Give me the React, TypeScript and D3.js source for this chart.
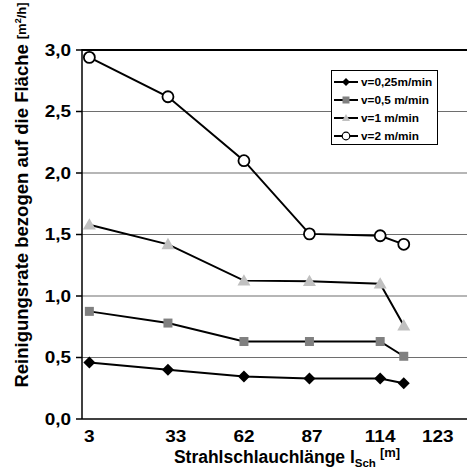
import React from "react";
import * as d3 from "d3";

const xValues = [3, 33, 62, 87, 114, 123];
const series025 = [0.46, 0.40, 0.345, 0.33, 0.33, 0.29];
const series05 = [0.875, 0.78, 0.63, 0.63, 0.63, 0.51];
const series1 = [1.58, 1.42, 1.125, 1.12, 1.10, 0.76];
const series2 = [2.94, 2.62, 2.10, 1.505, 1.49, 1.42];
const seriesNames = ["v=0,25m/min", "v=0,5 m/min", "v=1 m/min", "v=2 m/min"];
const xTickLabels = ["3", "33", "62", "87", "114", "123"];
const xTickAnchors = [3, 36, 62, 88, 114, 136];
const yTicks = [0, 0.5, 1, 1.5, 2, 2.5, 3];

const W = 467;
const H = 469;
const left = 82;
const top = 50;
const bottom = 419;

const x = d3.scaleLinear().domain([0, 148]).range([81.5, 81.5 + 148 * 2.62]);
const y = d3.scaleLinear().domain([0, 3]).range([bottom, top]);

const FONT = "'Liberation Sans', Arial, sans-serif";

type Kind = "diamond" | "square" | "triangle" | "circle";
const kinds: Kind[] = ["diamond", "square", "triangle", "circle"];
const allSeries = [series025, series05, series1, series2];

function Marker({ kind, cx, cy }: { kind: Kind; cx: number; cy: number }) {
  if (kind === "diamond") {
    const s = 6;
    return (
      <path
        d={`M${cx},${cy - s}L${cx + s},${cy}L${cx},${cy + s}L${cx - s},${cy}Z`}
        fill="#000"
      />
    );
  }
  if (kind === "square") {
    const s = 4.5;
    return <rect x={cx - s} y={cy - s} width={2 * s} height={2 * s} fill="#808080" />;
  }
  if (kind === "triangle") {
    const s = 6.5;
    return (
      <path
        d={`M${cx},${cy - s}L${cx + s},${cy + s * 0.75}L${cx - s},${cy + s * 0.75}Z`}
        fill="#c0c0c0"
      />
    );
  }
  return <circle cx={cx} cy={cy} r={5.5} fill="#fff" stroke="#000" strokeWidth={1.8} />;
}

function LegendMarker({ kind, cx, cy }: { kind: Kind; cx: number; cy: number }) {
  if (kind === "diamond") {
    const s = 4;
    return <path d={`M${cx},${cy - s}L${cx + s},${cy}L${cx},${cy + s}L${cx - s},${cy}Z`} fill="#000" />;
  }
  if (kind === "square") {
    const s = 3.5;
    return <rect x={cx - s} y={cy - s} width={2 * s} height={2 * s} fill="#808080" />;
  }
  if (kind === "triangle") {
    const s = 4;
    return <path d={`M${cx},${cy - s}L${cx + s},${cy + s * 0.75}L${cx - s},${cy + s * 0.75}Z`} fill="#c0c0c0" />;
  }
  return <circle cx={cx} cy={cy} r={3.8} fill="#fff" stroke="#000" strokeWidth={1.2} />;
}

export default function App() {
  const line = d3
    .line<[number, number]>()
    .x((d) => x(d[0]))
    .y((d) => y(d[1]));

  return (
    <svg
      width={W}
      height={H}
      style={{ position: "absolute", left: 0, top: 0, background: "#fff" }}
      fontFamily={FONT}
    >
      <rect x={0} y={0} width={W} height={H} fill="#fff" />
      {/* gridlines */}
      {yTicks.slice(1, -1).map((t) => (
        <line key={t} x1={left} x2={W} y1={y(t)} y2={y(t)} stroke="#6e6e6e" strokeWidth={1.2} />
      ))}
      <line x1={left} x2={W} y1={y(3)} y2={y(3)} stroke="#000" strokeWidth={2} />
      {/* axes */}
      <line x1={left} x2={left} y1={y(3) - 1} y2={bottom} stroke="#000" strokeWidth={1.5} />
      <line x1={left} x2={W} y1={bottom} y2={bottom} stroke="#000" strokeWidth={1.5} />
      {yTicks.map((t) => (
        <g key={t}>
          <line x1={left - 6} x2={left} y1={y(t)} y2={y(t)} stroke="#000" strokeWidth={1.5} />
          <text
            x={71}
            y={y(t) + 6}
            textAnchor="end"
            fontSize={16.5}
            fontWeight="bold"
            transform={`translate(71,0) scale(1.15,1) translate(-71,0)`}
          >
            {d3.format(".1f")(t).replace(".", ",")}
          </text>
        </g>
      ))}
      {/* x labels */}
      {xTickLabels.map((lab, i) => (
        <text
          key={lab}
          x={x(xTickAnchors[i])}
          y={442}
          textAnchor="middle"
          fontSize={16.5}
          fontWeight="bold"
          transform={`translate(${x(xTickAnchors[i])},0) scale(1.15,1) translate(${-x(xTickAnchors[i])},0)`}
        >
          {lab}
        </text>
      ))}
      {/* series */}
      {allSeries.map((s, si) => (
        <g key={si}>
          <path
            d={line(s.map((v, i) => [xValues[i], v] as [number, number])) || ""}
            fill="none"
            stroke="#000"
            strokeWidth={2}
          />
          {s.map((v, i) => (
            <Marker key={i} kind={kinds[si]} cx={x(xValues[i])} cy={y(v)} />
          ))}
        </g>
      ))}
      {/* legend */}
      <rect x={331.5} y={70.5} width={106} height={74} fill="#fff" stroke="#000" strokeWidth={1} />
      {seriesNames.map((n, i) => {
        const ly = 82 + i * 18;
        return (
          <g key={n}>
            <line x1={334} x2={358} y1={ly} y2={ly} stroke="#000" strokeWidth={2} />
            <LegendMarker kind={kinds[i]} cx={346} cy={ly} />
            <text x={361} y={ly + 4} fontSize={11.8} fontWeight="bold">
              {n}
            </text>
          </g>
        );
      })}
      {/* x title */}
      <text x={287} y={463} textAnchor="middle" fontSize={17.5} fontWeight="bold">
        Strahlschlauchlänge l
        <tspan fontSize={11.5} dy={4}>Sch</tspan>
        <tspan fontSize={13} dy={-10} dx={4}>[m]</tspan>
      </text>
      {/* y title */}
      <text
        transform="translate(28,195) rotate(-90)"
        textAnchor="middle"
        fontSize={18.5}
        fontWeight="bold"
      >
        Reinigungsrate bezogen auf die Fläche
        <tspan fontSize={13} dx={5} dy={-2}>[m</tspan>
        <tspan fontSize={9} dy={-5}>2</tspan>
        <tspan fontSize={13} dy={5}>/h]</tspan>
      </text>
    </svg>
  );
}
